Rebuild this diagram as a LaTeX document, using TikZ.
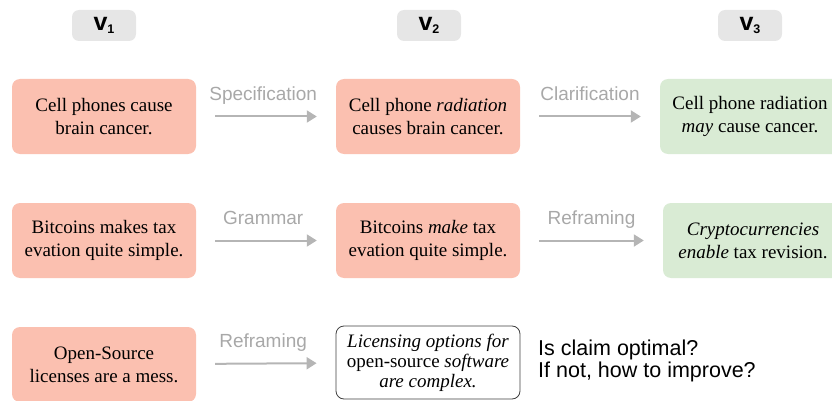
\documentclass[tikz,border=0pt]{standalone}
\usepackage{fontspec}
\setmainfont{Liberation Serif}
\newfontfamily\arialf{Liberation Sans}
\usetikzlibrary{arrows.meta}
\definecolor{salmon}{HTML}{FBC0B0}
\definecolor{mint}{HTML}{D9EBD4}
\definecolor{hdrgray}{HTML}{E6E6E6}
\definecolor{arrgray}{HTML}{B5B5B5}
\definecolor{labgray}{HTML}{A8A8A8}
\tikzset{
  x=1pt, y=-1pt,
  claimbox/.style={rectangle, rounded corners=8pt, minimum width=184pt, minimum height=75pt,
    inner sep=0pt, align=center, font=\fontsize{19}{23}\selectfont},
  redbox/.style={claimbox, fill=salmon},
  greenbox/.style={claimbox, fill=mint, minimum width=180pt},
  whitebox/.style={claimbox, draw=black!75, line width=0.8pt, fill=white, minimum height=73pt,
    font=\fontsize{19}{20}\selectfont},
  hdr/.style={rectangle, rounded corners=7pt, fill=hdrgray, minimum width=64pt, minimum height=31pt,
    inner sep=0pt, font=\arialf\bfseries\fontsize{25}{25}\selectfont},
  arr/.style={draw=arrgray, line width=2pt, -{Triangle[length=10pt,width=12pt]},
    shorten <=19pt, shorten >=19pt},
  lab/.style={anchor=base, yshift=16pt, text=labgray, font=\arialf\fontsize{19}{19}\selectfont}
}
\newcommand{\vsub}[1]{v\raisebox{-2.5pt}{\fontsize{12.5}{12.5}\selectfont #1}}
\begin{document}
\begin{tikzpicture}
\useasboundingbox (0,0) rectangle (832,401);
\clip (0,0) rectangle (832,401);
% headers
\node[hdr] (h1) at (104,25.5) {\vsub{1}};
\node[hdr] (h2) at (429,25.5) {\vsub{2}};
\node[hdr] (h3) at (750,25.5) {\vsub{3}};
% row 1
\node[redbox] (a1) at (104,116.5) {Cell phones cause\\brain cancer.};
\node[redbox] (a2) at (428,116.5) {Cell phone \textit{radiation}\\causes brain cancer.};
\node[greenbox] (a3) at (750,116.5) {Cell phone radiation\\\textit{may} cause cancer.};
% row 2
\node[redbox] (b1) at (104,240.5) {Bitcoins makes tax\\evation quite simple.};
\node[redbox] (b2) at (428,240.5) {Bitcoins \textit{make} tax\\evation quite simple.};
\node[greenbox] (b3) at (753,240.5) {\textit{Cryptocurrencies}\\\textit{enable} tax revision.};
% row 3
\node[redbox] (c1) at (104,364.5) {Open-Source\\licenses are a mess.};
\node[whitebox] (c2) at (428,362.5) {\textit{Licensing options for}\\open-source \textit{software}\\\textit{are complex.}};
\node[anchor=west, align=left, inner sep=0pt, font=\arialf\fontsize{21.5}{22.5}\selectfont] (q) at (538,361)
  {Is claim optimal?\\If not, how to improve?};
% arrows
\draw[arr] (a1) -- (a2) node[lab, pos=0.48] {Specification};
\draw[arr] (a2) -- (a3) node[lab, pos=0.5] {Clarification};
\draw[arr] (b1) -- (b2) node[lab, pos=0.48] {Grammar};
\draw[arr] (b2) -- (b3) node[lab, pos=0.5] {Reframing};
\draw[arr] (c1) -- (c2) node[lab, pos=0.48] {Reframing};
\end{tikzpicture}
\end{document}
